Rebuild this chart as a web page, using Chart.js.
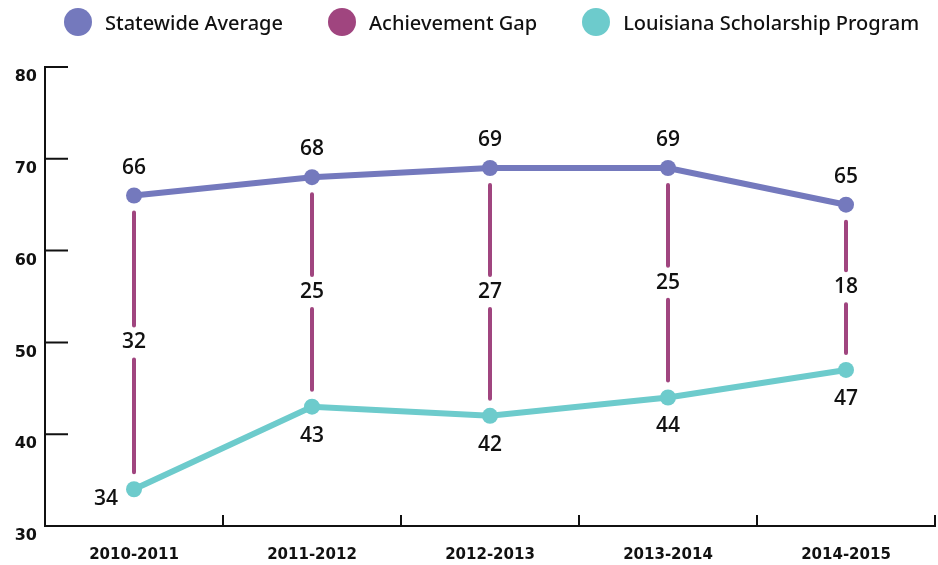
<!DOCTYPE html>
<html>
<head>
<meta charset="utf-8">
<script src="https://cdn.jsdelivr.net/npm/chart.js@4.4.1/dist/chart.umd.min.js"></script>
<style>
  html, body { margin: 0; padding: 0; background: #fff; }
  #wrap { position: relative; width: 938px; height: 565px; }
  #legend { position: absolute; left: 64px; top: 8px; display: flex; gap: 45px;
            font: 500 20px 'Noto Sans', sans-serif; color: #111; }
  #legend .item { display: flex; align-items: center; height: 28px; }
  #legend .dot { width: 28px; height: 28px; border-radius: 50%; margin-right: 13px; }
</style>
</head>
<body>
<div id="wrap">
  <canvas id="c" width="938" height="565"></canvas>
  <div id="legend"></div>
</div>
<script>
// data
const years = ['2010-2011', '2011-2012', '2012-2013', '2013-2014', '2014-2015'];
const statewide = [66, 68, 69, 69, 65];
const scholarship = [34, 43, 42, 44, 47];
const gap = [32, 25, 27, 25, 18];
const yMin = 30, yMax = 80, yStep = 10;

const C_STATE = '#7479bd', C_GAP = '#a0457f', C_LSP = '#6dcbcc', INK = '#111';

const legendNames = ['Statewide Average', 'Achievement Gap', 'Louisiana Scholarship Program'];
const legendColors = [C_STATE, C_GAP, C_LSP];

// legend
const lg = document.getElementById('legend');
legendNames.forEach((n, i) => {
  const it = document.createElement('div');
  it.className = 'item';
  it.innerHTML = '<span class="dot" style="background:' + legendColors[i] + '"></span><span>' + n + '</span>';
  lg.appendChild(it);
});

// tick marks pointing into the plot
const tickMarks = {
  id: 'tickMarks',
  afterDraw(chart) {
    const { ctx, scales: { x, y } } = chart;
    ctx.save();
    ctx.strokeStyle = INK;
    ctx.lineWidth = 2;
    ctx.beginPath();
    y.ticks.forEach(t => {
      const py = y.getPixelForValue(t.value);
      ctx.moveTo(x.left, py); ctx.lineTo(x.left + 23, py);
    });
    const n = years.length, w = (x.right - x.left) / n;
    for (let i = 1; i <= n; i++) {
      const px = x.left + i * w;
      ctx.moveTo(px, y.bottom); ctx.lineTo(px, y.bottom - 11);
    }
    ctx.stroke();
    ctx.restore();
  }
};

// achievement gap bars + all value labels
const gapAndLabels = {
  id: 'gapAndLabels',
  beforeDatasetsDraw(chart) {
    const { ctx, scales: { x, y } } = chart;
    ctx.save();
    ctx.strokeStyle = C_GAP;
    ctx.lineWidth = 4;
    ctx.lineCap = 'round';
    gap.forEach((g, i) => {
      const px = x.getPixelForValue(i);
      const yt = y.getPixelForValue(statewide[i]), yb = y.getPixelForValue(scholarship[i]);
      const mid = (yt + yb) / 2;
      ctx.beginPath();
      ctx.moveTo(px, yt + 17); ctx.lineTo(px, mid - 17);
      ctx.moveTo(px, mid + 17); ctx.lineTo(px, yb - 17);
      ctx.stroke();
    });
    ctx.restore();
  },
  afterDatasetsDraw(chart) {
    const { ctx, scales: { x, y } } = chart;
    ctx.save();
    ctx.fillStyle = INK;
    ctx.font = "600 21px 'Open Sans', sans-serif";
    ctx.textAlign = 'center';
    ctx.textBaseline = 'middle';
    years.forEach((_, i) => {
      const px = x.getPixelForValue(i);
      const yt = y.getPixelForValue(statewide[i]), yb = y.getPixelForValue(scholarship[i]);
      ctx.fillText(statewide[i], px, yt - 28);
      ctx.fillText(gap[i], px, (yt + yb) / 2);
      // first point: line climbs away, so label sits to the lower left
      if (i === 0) ctx.fillText(scholarship[i], px - 28, yb + 10);
      else ctx.fillText(scholarship[i], px, yb + 29);
    });
    ctx.restore();
  }
};

const lineDs = (label, data, color) => ({
  label, data,
  borderColor: color, backgroundColor: color,
  borderWidth: 6, pointRadius: 8, pointHoverRadius: 8,
  pointBorderWidth: 0, tension: 0
});

new Chart(document.getElementById('c'), {
  type: 'line',
  data: {
    labels: years,
    datasets: [
      lineDs('Statewide Average', statewide, C_STATE),
      lineDs('Louisiana Scholarship Program', scholarship, C_LSP)
    ]
  },
  options: {
    responsive: false,
    animation: false,
    devicePixelRatio: 1,
    layout: { autoPadding: false, padding: { top: 67, right: 3, bottom: 0, left: 0 } },
    plugins: { legend: { display: false }, tooltip: { enabled: false } },
    scales: {
      x: {
        offset: true,
        grid: { display: false, drawTicks: false },
        border: { color: INK, width: 2 },
        ticks: { color: INK, padding: 20, font: { family: 'DejaVu Sans', size: 15, weight: 'bold' } },
        afterFit: s => { s.height = 39; s.paddingLeft = 0; s.paddingRight = 0; }
      },
      y: {
        min: yMin, max: yMax,
        grid: { display: false, drawTicks: false },
        border: { color: INK, width: 2 },
        ticks: { stepSize: yStep, color: INK, padding: 8, labelOffset: 10,
                 font: { family: 'DejaVu Sans', size: 16, weight: 'bold' } },
        afterFit: s => { s.width = 45; }
      }
    }
  },
  plugins: [gapAndLabels, tickMarks]
});
</script>
</body>
</html>
